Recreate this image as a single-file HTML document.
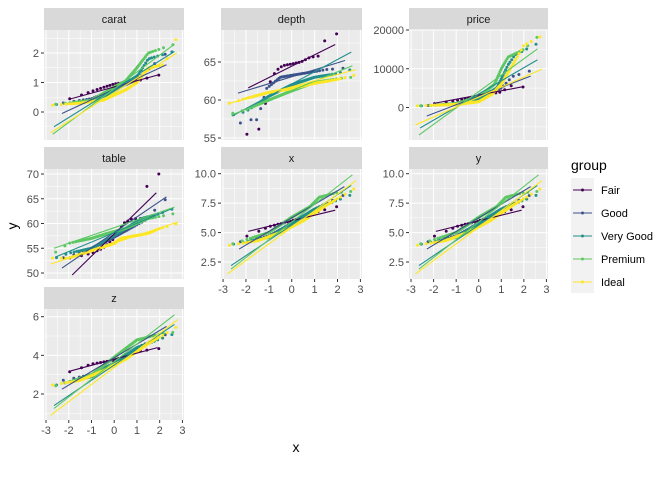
<!DOCTYPE html>
<html><head><meta charset="utf-8"><style>
html,body{margin:0;padding:0;background:#fff;width:672px;height:480px;overflow:hidden}
svg text{font-family:"Liberation Sans",sans-serif}
</style></head><body>
<svg id="s" width="672" height="480" viewBox="0 0 672 480" xmlns="http://www.w3.org/2000/svg"></svg>
<script>
const C={Fair:"#440154",Good:"#3B528B",VG:"#21908C",Premium:"#5DC863",Ideal:"#FDE725"};
const N={Fair:20,Good:40,VG:90,Premium:100,Ideal:150};
function qn(p){const a=[-39.6968302866538,220.946098424521,-275.928510446969,138.357751867269,-30.6647980661472,2.50662827745924],b=[-54.4760987982241,161.585836858041,-155.698979859887,66.8013118877197,-13.2806815528857],c=[-0.00778489400243029,-0.322396458041136,-2.40075827716184,-2.54973253934373,4.37466414146497,2.93816398269878],d=[0.00778469570904146,0.32246712907004,2.445134137143,3.75440866190742];let q,r;if(p<0.02425){q=Math.sqrt(-2*Math.log(p));return(((((c[0]*q+c[1])*q+c[2])*q+c[3])*q+c[4])*q+c[5])/((((d[0]*q+d[1])*q+d[2])*q+d[3])*q+1);}if(p>1-0.02425){q=Math.sqrt(-2*Math.log(1-p));return-(((((c[0]*q+c[1])*q+c[2])*q+c[3])*q+c[4])*q+c[5])/((((d[0]*q+d[1])*q+d[2])*q+d[3])*q+1);}q=p-0.5;r=q*q;return(((((a[0]*r+a[1])*r+a[2])*r+a[3])*r+a[4])*r+a[5])*q/(((((b[0]*r+b[1])*r+b[2])*r+b[3])*r+b[4])*r+1);}
function interp(pts,q){if(q<=pts[0][0])return pts[0][1];for(let i=1;i<pts.length;i++){if(q<=pts[i][0]){const t=(q-pts[i-1][0])/(pts[i][0]-pts[i-1][0]);return pts[i-1][1]+t*(pts[i][1]-pts[i-1][1]);}}return pts[pts.length-1][1];}
let out="";
function panel(P){
 const {x0,y0,w,h,title,yt,ylab,v1,p1,v2,p2,minor,data,xlab}=P;
 const X=q=>x0+(q+3.09)/6.16*w, Y=v=>p1+(v-v1)/(v2-v1)*(p2-p1);
 out+=`<rect x="${x0}" y="${y0-22}" width="${w}" height="22" fill="#d9d9d9"/>`;
 out+=`<text x="${x0+w/2}" y="${y0-7}" font-size="11" fill="#1a1a1a" text-anchor="middle">${title}</text>`;
 out+=`<rect x="${x0}" y="${y0}" width="${w}" height="${h}" fill="#ebebeb"/>`;
 for(let q=-2.5;q<=2.5;q+=1){out+=`<line x1="${X(q)}" x2="${X(q)}" y1="${y0}" y2="${y0+h}" stroke="#fff" stroke-width="0.5"/>`;}
 minor.forEach(v=>{out+=`<line x1="${x0}" x2="${x0+w}" y1="${Y(v)}" y2="${Y(v)}" stroke="#fff" stroke-width="0.5"/>`;});
 for(let q=-3;q<=3;q++){out+=`<line x1="${X(q)}" x2="${X(q)}" y1="${y0}" y2="${y0+h}" stroke="#fff" stroke-width="1"/>`;}
 yt.forEach((v,i)=>{const y=Y(v);out+=`<line x1="${x0}" x2="${x0+w}" y1="${y}" y2="${y}" stroke="#fff" stroke-width="1"/><line x1="${x0-3}" x2="${x0}" y1="${y}" y2="${y}" stroke="#333"/><text x="${x0-5}" y="${y+4}" font-size="11" fill="#4d4d4d" text-anchor="end">${ylab[i]}</text>`;});
 if(xlab){for(let q=-3;q<=3;q++){out+=`<line x1="${X(q)}" x2="${X(q)}" y1="${y0+h}" y2="${y0+h+3}" stroke="#333"/><text x="${X(q)}" y="${y0+h+14}" font-size="11" fill="#4d4d4d" text-anchor="middle">${q}</text>`;}}
 let pts="",lines="";
 out+=`<svg x="${x0}" y="${y0}" width="${w}" height="${h}" overflow="hidden"><g transform="translate(${-x0},${-y0})">`;
 for(const g of ["Fair","Good","VG","Premium","Ideal"]){const d=data[g];const n=N[g];
  for(let i=1;i<=n;i++){const q=qn((i-0.5)/n);pts+=`<circle cx="${X(q).toFixed(1)}" cy="${Y(interp(d.p,q)).toFixed(1)}" r="1.5" fill="${C[g]}"/>`;}
  const L=d.l;lines+=`<line x1="${X(L[0])}" y1="${Y(L[1])}" x2="${X(L[2])}" y2="${Y(L[3])}" stroke="${C[g]}" stroke-width="1.1"/>`;}
 out+=pts+lines+`</g></svg>`;
}
const cols=[[44,140],[221,141],[409,139]];
panel({x0:44,y0:30,w:140,h:110,title:"carat",yt:[0,1,2],ylab:["0","1","2"],v1:0,p1:112,v2:2,p2:53,minor:[-0.5,0.5,1.5,2.5],data:{
Fair:{p:[[-1.9,0.45],[-1,0.7],[0,0.95],[1,1.05],[1.9,1.25]],l:[-1.9,0.45,1.9,1.25]},
Good:{p:[[-2.3,0.3],[-1,0.45],[0,0.75],[1,1.1],[2.3,2.0]],l:[-2.3,-0.05,2.3,1.6]},
VG:{p:[[-2.6,0.25],[-1,0.35],[0,0.7],[1,1.2],[1.5,1.8],[2.6,2.05]],l:[-2.65,-0.5,2.65,2.05]},
Premium:{p:[[-2.7,0.25],[-1,0.4],[0,0.85],[0.5,1.05],[1,1.5],[1.5,2.0],[2.65,2.3]],l:[-2.7,-0.75,2.65,2.3]},
Ideal:{p:[[-2.8,0.23],[-1.5,0.3],[-0.5,0.4],[0.5,0.75],[1,1.0],[1.5,1.5],[2.2,1.6],[2.8,2.6]],l:[-2.8,-0.7,2.75,2.0]}}});
panel({x0:221,y0:30,w:141,h:110,title:"depth",yt:[55,60,65],ylab:["55","60","65"],v1:60,p1:100,v2:65,p2:62,minor:[57.5,62.5,67.5],data:{
Fair:{p:[[-1.9,55.5],[-1.35,56.3],[-1.0,62],[-0.7,63.8],[-0.4,64.5],[0.4,65],[0.8,65.6],[1.2,65.8],[1.4,67.7],[1.9,68.7]],l:[-1.9,61.6,1.9,67.3]},
Good:{p:[[-2.3,56.9],[-1.9,57.4],[-1.5,57.4],[-1.1,61.5],[-0.5,63],[0.5,63.5],[1.5,64],[2.3,64.2]],l:[-2.35,60.9,2.33,65.2]},
VG:{p:[[-2.6,58],[-2,58.5],[-1,60.5],[0,62],[1,63],[2,63.5],[2.6,64]],l:[-2.6,57.9,2.6,66.3]},
Premium:{p:[[-2.65,58.2],[-2,58.7],[-1,60],[0,61.2],[1,62.3],[2,62.8],[2.65,63]],l:[-2.65,58,2.65,64.5]},
Ideal:{p:[[-2.8,59.5],[-2,60.2],[-1,61],[0,61.5],[1,62.2],[2,62.7],[2.8,63.3]],l:[-2.8,59.5,2.8,64]}}});
panel({x0:409,y0:30,w:139,h:110,title:"price",yt:[0,10000,20000],ylab:["0","10000","20000"],v1:0,p1:107.5,v2:20000,p2:30,minor:[-5000,5000,15000],data:{
Fair:{p:[[-1.9,1000],[-1,1800],[0,3000],[1,4000],[1.7,6600],[1.9,5300]],l:[-1.9,1160,1.9,5300]},
Good:{p:[[-2.3,500],[-1,1000],[0,2500],[1,5000],[1.5,8000],[2.3,9500]],l:[-2.3,-2200,2.3,8100]},
VG:{p:[[-2.6,400],[-1,900],[0,2300],[0.8,5000],[1.3,11000],[1.6,13500],[2.6,16500]],l:[-2.6,-5300,2.6,12300]},
Premium:{p:[[-2.65,400],[-1,1000],[0,2800],[0.7,6000],[1,10000],[1.3,13000],[2,15000],[2.65,18500]],l:[-2.65,-7100,2.6,15100]},
Ideal:{p:[[-2.8,400],[-1,800],[0,1500],[0.6,3500],[1,6000],[1.5,11000],[2,16000],[2.8,18500]],l:[-2.8,-4500,2.8,9900]}}});
panel({x0:44,y0:169,w:140,h:110,title:"table",yt:[50,55,60,65,70],ylab:["50","55","60","65","70"],v1:50,p1:273,v2:70,p2:174,minor:[52.5,57.5,62.5,67.5],data:{
Fair:{p:[[-1.9,53],[-1,54],[-0.5,55],[0,57],[0.4,60],[0.8,61],[1.2,61],[1.35,67],[1.9,70]],l:[-1.85,49.6,1.85,66.2]},
Good:{p:[[-2.3,53],[-1.5,54],[-0.5,56],[0.5,58.5],[1.5,61],[2,64],[2.3,65]],l:[-2.3,51,2.3,65.4]},
VG:{p:[[-2.6,53],[-2,54],[-1,55],[-0.2,57],[0.5,59],[1.2,61],[2,62],[2.6,63]],l:[-2.6,53.2,2.6,63.1]},
Premium:{p:[[-2.65,54],[-2,56],[-1,57],[-0.3,58],[0.5,59],[1.5,61],[2.65,62]],l:[-2.65,55,2.65,63.3]},
Ideal:{p:[[-2.8,53],[-2,53],[-1,54.5],[0,56],[0.3,57],[1.5,58],[2,59],[2.8,60]],l:[-2.8,51.8,2.8,60.3]}}});
const xd={
Fair:{p:[[-1.9,4.7],[-1,5.5],[0,6],[1,6.7],[1.9,7.2]],l:[-1.9,5.1,1.9,6.9]},
Good:{p:[[-2.3,4.2],[-1,4.7],[0,5.8],[1,7],[2.3,8.2]],l:[-2.3,3.6,2.3,8.9]},
VG:{p:[[-2.6,4],[-1,4.6],[0,5.8],[1,7],[2.6,8.2]],l:[-2.65,2.2,2.6,9]},
Premium:{p:[[-2.65,4],[-1,5],[0,6.3],[0.8,7.2],[1.2,8],[2,8.4],[2.65,8.5]],l:[-2.65,1.9,2.65,9.9]},
Ideal:{p:[[-2.8,3.9],[-1.5,4.3],[-0.5,5],[0.5,6],[1.5,7.3],[2.8,8.8]],l:[-2.8,1.5,2.8,9.4]}};
const xo={yt:[2.5,5,7.5,10],ylab:["2.5","5.0","7.5","10.0"],v1:2.5,p1:262,v2:10,p2:173.7,minor:[3.75,6.25,8.75]};
panel(Object.assign({x0:221,y0:169,w:141,h:110,title:"x",xlab:1,data:xd},xo));
panel(Object.assign({x0:409,y0:169,w:139,h:110,title:"y",xlab:1,data:xd},xo));
panel({x0:44,y0:309,w:140,h:111,title:"z",xlab:1,yt:[2,4,6],ylab:["2","4","6"],v1:2,p1:394,v2:6,p2:316.7,minor:[1,3,5],data:{
Fair:{p:[[-1.9,3.15],[-1,3.55],[0,3.75],[1,4.2],[1.9,4.35]],l:[-1.9,3.2,1.9,4.4]},
Good:{p:[[-2.3,2.7],[-1,3],[0,3.6],[1,4.4],[2.3,5.1]],l:[-2.3,2.25,2.3,5.5]},
VG:{p:[[-2.6,2.45],[-1,2.9],[0,3.6],[1,4.4],[2.6,5.1]],l:[-2.65,1.4,2.65,5.6]},
Premium:{p:[[-2.65,2.4],[-1,3],[0,3.9],[1,4.8],[2,5.1],[2.65,5.2]],l:[-2.65,1.25,2.65,6.1]},
Ideal:{p:[[-2.8,2.45],[-1.5,2.7],[-0.5,3.2],[0.5,3.8],[1.5,4.6],[2.8,5.5]],l:[-2.8,0.9,2.8,5.85]}}});
out+=`<text x="296" y="452" font-size="14" fill="#000" text-anchor="middle">x</text>`;
out+=`<text transform="translate(17,226) rotate(-90)" font-size="14" fill="#000" text-anchor="middle">y</text>`;
out+=`<text x="571" y="170" font-size="14" fill="#000">group</text>`;
out+=`<rect x="571" y="178" width="23" height="115" fill="#f2f2f2"/>`;
[["Fair","Fair"],["Good","Good"],["VG","Very Good"],["Premium","Premium"],["Ideal","Ideal"]].forEach((e,i)=>{const y=190+i*23;
out+=`<line x1="573" x2="592" y1="${y}" y2="${y}" stroke="${C[e[0]]}" stroke-width="1.1"/><circle cx="582.5" cy="${y}" r="1.5" fill="${C[e[0]]}"/><text x="601" y="${y+4}" font-size="11" fill="#000">${e[1]}</text>`;});
document.getElementById("s").innerHTML=out;
</script>
</body></html>
